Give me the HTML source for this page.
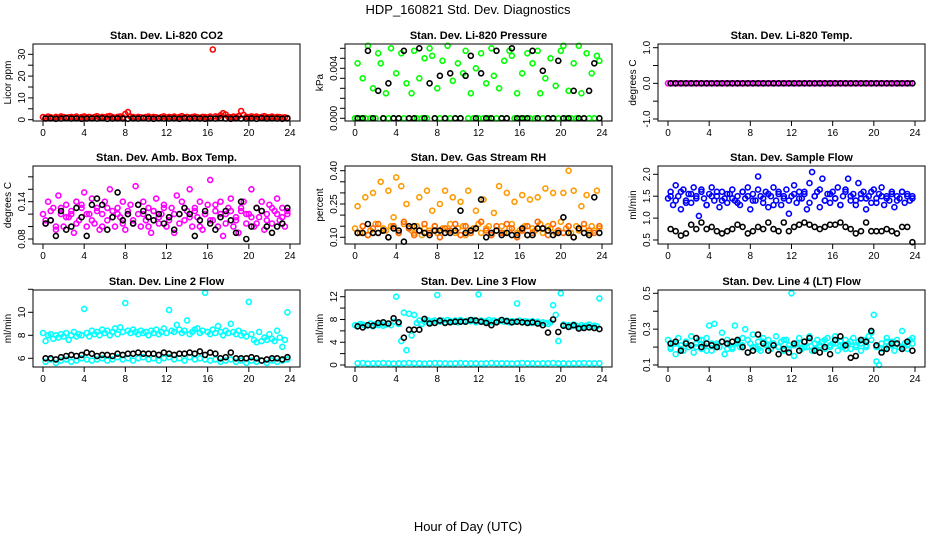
<!DOCTYPE html>
<html><head><meta charset="utf-8"><title>HDP_160821 Std. Dev. Diagnostics</title>
<style>
html,body{margin:0;padding:0;background:#fff;}
svg{display:block;font-family:"Liberation Sans",Arial,sans-serif;}
</style></head>
<body>
<svg id="chart" width="936" height="540" viewBox="0 0 936 540" xmlns="http://www.w3.org/2000/svg">
<text x="468" y="14" text-anchor="middle" font-size="13">HDP_160821  Std. Dev. Diagnostics</text>
<text x="468" y="531" text-anchor="middle" font-size="13">Hour of Day (UTC)</text>
</svg>
<script>
const hoursC = [0,0.25,0.5,0.75,1,1.25,1.5,1.75,2,2.25,2.5,2.75,3,3.25,3.5,3.75,4,4.25,4.5,4.75,5,5.25,5.5,5.75,6,6.25,6.5,6.75,7,7.25,7.5,7.75,8,8.25,8.5,8.75,9,9.25,9.5,9.75,10,10.25,10.5,10.75,11,11.25,11.5,11.75,12,12.25,12.5,12.75,13,13.25,13.5,13.75,14,14.25,14.5,14.75,15,15.25,15.5,15.75,16,16.25,16.5,16.75,17,17.25,17.5,17.75,18,18.25,18.5,18.75,19,19.25,19.5,19.75,20,20.25,20.5,20.75,21,21.25,21.5,21.75,22,22.25,22.5,22.75,23,23.25,23.5,23.75];
const hoursB = [0.25,0.75,1.25,1.75,2.25,2.75,3.25,3.75,4.25,4.75,5.25,5.75,6.25,6.75,7.25,7.75,8.25,8.75,9.25,9.75,10.25,10.75,11.25,11.75,12.25,12.75,13.25,13.75,14.25,14.75,15.25,15.75,16.25,16.75,17.25,17.75,18.25,18.75,19.25,19.75,20.25,20.75,21.25,21.75,22.25,22.75,23.25,23.75];
const xTicks = [0,4,8,12,16,20,24];

const co2Color = [1.2,0.9,1.4,1.1,0.8,1.3,1.0,1.5,1.2,0.9,1.1,1.3,1.0,1.4,0.8,1.2,1.5,1.1,1.3,0.9,1.2,1.6,1.0,1.3,1.1,1.4,1.7,1.2,0.9,1.3,1.5,1.1,2.6,3.5,1.4,1.2,1.0,1.3,1.1,0.9,1.2,1.4,1.0,1.3,1.1,0.8,1.2,1.5,1.0,1.3,1.1,1.4,0.9,1.2,1.6,1.1,1.3,1.0,1.2,1.4,1.1,0.9,1.3,1.2,1.0,1.4,32.2,1.5,1.2,2.0,3.0,2.4,1.3,1.1,1.4,1.2,1.6,4.0,2.2,1.3,1.1,1.5,1.2,1.4,1.0,1.3,1.6,1.2,1.1,1.4,1.0,1.3,1.2,0.9,1.1,0.8];
const co2Black = [0.5,0.6,0.4,0.5,0.7,0.5,0.6,0.4,0.5,0.6,0.5,0.7,0.4,0.5,0.6,0.5,0.4,0.6,0.5,0.7,0.5,0.4,0.6,0.5,0.5,0.6,0.4,0.7,0.5,0.6,0.5,0.4,0.6,0.5,0.7,0.5,0.4,0.6,0.5,0.5,0.6,0.4,0.7,0.5,0.6,0.5,0.4,0.6];

const presColor = [0,0.0044,0,0.0032,0,0.0058,0,0.0024,0,0.0052,0.0044,0,0.0020,0,0.0056,0,0.0036,0,0.0052,0,0.0028,0,0.0020,0.0054,0,0.0032,0,0.0048,0,0.0056,0.0050,0,0.0024,0,0.0046,0,0.0058,0,0.0030,0,0.0044,0,0.0036,0.0054,0,0.0020,0,0.0040,0,0.0052,0,0.0028,0,0.0056,0.0034,0,0.0024,0,0.0046,0,0.0054,0.0050,0,0.0020,0,0.0036,0,0.0052,0,0.0044,0,0.0054,0.0020,0,0.0032,0,0.0048,0,0.0026,0,0.0054,0.0058,0,0.0022,0,0.0044,0,0.0058,0.0020,0,0.0052,0,0.0036,0,0.0050,0.0046];
const presBlack = [0,0,0.0054,0,0.0022,0,0.0028,0,0,0.0054,0,0,0.0056,0,0.0028,0,0.0034,0,0.0036,0,0,0.0034,0.0050,0,0.0036,0,0,0.0054,0,0,0.0056,0,0,0,0.0054,0,0.0038,0,0,0.0046,0,0,0.0022,0,0,0.0022,0.0044,0];

const tempColor = [0,0,0,0,0,0,0,0,0,0,0,0,0,0,0,0,0,0,0,0,0,0,0,0,0,0,0,0,0,0,0,0,0,0,0,0,0,0,0,0,0,0,0,0,0,0,0,0,0,0,0,0,0,0,0,0,0,0,0,0,0,0,0,0,0,0,0,0,0,0,0,0,0,0,0,0,0,0,0,0,0,0,0,0,0,0,0,0,0,0,0,0,0,0,0,0];
const tempBlack = [0,0,0,0,0,0,0,0,0,0,0,0,0,0,0,0,0,0,0,0,0,0,0,0,0,0,0,0,0,0,0,0,0,0,0,0,0,0,0,0,0,0,0,0,0,0,0,0];

const ambColor = [0.12,0.105,0.14,0.11,0.13,0.095,0.15,0.12,0.10,0.135,0.115,0.125,0.09,0.14,0.11,0.13,0.155,0.10,0.12,0.145,0.105,0.13,0.095,0.12,0.14,0.11,0.16,0.125,0.10,0.13,0.115,0.14,0.095,0.12,0.135,0.105,0.165,0.12,0.10,0.14,0.11,0.13,0.09,0.125,0.145,0.105,0.12,0.135,0.10,0.115,0.13,0.09,0.15,0.12,0.14,0.11,0.125,0.16,0.10,0.13,0.115,0.14,0.095,0.12,0.135,0.175,0.11,0.125,0.10,0.14,0.085,0.12,0.13,0.145,0.10,0.115,0.09,0.125,0.14,0.105,0.12,0.16,0.10,0.13,0.115,0.14,0.095,0.12,0.135,0.105,0.125,0.145,0.11,0.13,0.10,0.12];
const ambColor2 = [0.11,0.125,0.10,0.13,0.115,0.12,0.105,0.135,0.12,0.11,0.125,0.10,0.13,0.115,0.12,0.105,0.125,0.11,0.135,0.12,0.10,0.125,0.115,0.13,0.11,0.12,0.105,0.13,0.115,0.125,0.10,0.12,0.11,0.135,0.12,0.105,0.125,0.11,0.13,0.12,0.115,0.105,0.125,0.11,0.13,0.12,0.115,0.125];
const ambBlack = [0.105,0.11,0.085,0.125,0.095,0.10,0.13,0.115,0.085,0.135,0.145,0.135,0.095,0.115,0.155,0.11,0.12,0.105,0.135,0.125,0.115,0.11,0.12,0.105,0.115,0.095,0.12,0.13,0.12,0.085,0.11,0.125,0.105,0.095,0.115,0.125,0.11,0.09,0.14,0.08,0.10,0.13,0.125,0.10,0.09,0.10,0.105,0.13];

const rhColor = [0.14,0.24,0.12,0.15,0.28,0.11,0.13,0.30,0.16,0.12,0.35,0.14,0.13,0.31,0.15,0.19,0.37,0.12,0.33,0.16,0.25,0.14,0.13,0.12,0.15,0.28,0.11,0.14,0.31,0.13,0.22,0.15,0.12,0.25,0.14,0.31,0.13,0.16,0.28,0.12,0.14,0.26,0.15,0.11,0.31,0.13,0.14,0.22,0.16,0.12,0.27,0.14,0.15,0.11,0.21,0.13,0.33,0.15,0.12,0.30,0.14,0.16,0.26,0.12,0.13,0.29,0.15,0.11,0.27,0.14,0.13,0.28,0.16,0.12,0.32,0.15,0.14,0.30,0.12,0.13,0.17,0.30,0.14,0.40,0.12,0.31,0.15,0.13,0.24,0.14,0.29,0.12,0.15,0.13,0.31,0.14];
const rhColor2 = [0.12,0.15,0.11,0.14,0.16,0.13,0.10,0.15,0.12,0.17,0.14,0.11,0.13,0.16,0.12,0.15,0.10,0.14,0.13,0.16,0.11,0.15,0.12,0.14,0.17,0.13,0.11,0.15,0.12,0.16,0.14,0.10,0.13,0.15,0.12,0.17,0.14,0.11,0.16,0.13,0.12,0.15,0.10,0.14,0.16,0.13,0.12,0.15];
const rhBlack = [0.12,0.12,0.16,0.12,0.12,0.13,0.10,0.14,0.13,0.08,0.15,0.15,0.13,0.12,0.11,0.13,0.13,0.12,0.12,0.13,0.22,0.12,0.13,0.14,0.27,0.10,0.12,0.13,0.11,0.12,0.11,0.11,0.14,0.11,0.11,0.14,0.14,0.13,0.11,0.12,0.19,0.12,0.10,0.14,0.12,0.11,0.28,0.12];

const flowColor = [1.45,1.6,1.3,1.75,1.5,1.2,1.65,1.4,1.55,1.35,1.7,1.5,1.05,1.6,1.45,1.3,1.55,1.7,1.4,1.5,1.25,1.6,1.45,1.35,1.55,1.65,1.4,1.5,1.3,1.6,1.45,1.7,1.2,1.55,1.4,1.95,1.5,1.35,1.6,1.25,1.5,1.7,1.4,1.55,1.3,1.45,1.65,1.1,1.5,1.75,1.35,1.6,1.45,1.55,1.2,1.8,2.05,1.5,1.6,1.25,1.9,1.4,1.55,1.35,1.6,1.45,1.7,1.3,1.5,1.65,1.9,1.4,1.55,1.3,1.8,1.45,1.6,1.2,1.5,1.35,1.65,1.45,1.55,1.7,1.3,1.5,1.4,1.6,1.25,1.5,1.45,1.6,1.35,1.55,1.4,1.5];
const flowColor2 = [1.5,1.4,1.6,1.35,1.55,1.45,1.65,1.3,1.5,1.6,1.4,1.55,1.45,1.35,1.6,1.5,1.4,1.65,1.45,1.55,1.3,1.6,1.5,1.4,1.55,1.45,1.6,1.35,1.5,1.65,1.4,1.55,1.45,1.3,1.6,1.5,1.4,1.55,1.45,1.6,1.35,1.5,1.45,1.55,1.4,1.6,1.5,1.45];
const flowBlack = [0.75,0.7,0.6,0.65,0.85,0.75,0.9,0.75,0.8,0.7,0.65,0.7,0.75,0.85,0.8,0.65,0.7,0.8,0.75,0.9,0.75,0.7,0.9,0.7,0.8,0.85,0.9,0.85,0.8,0.75,0.8,0.85,0.85,0.9,0.8,0.75,0.65,0.7,0.9,0.7,0.7,0.7,0.75,0.7,0.65,0.8,0.8,0.45];

const line2Color = [8.2,7.5,8.0,8.1,7.7,8.0,7.8,8.1,7.9,8.2,7.6,8.0,8.3,7.9,8.1,8.0,10.3,8.2,7.9,8.4,8.1,8.3,8.0,8.5,8.2,8.4,8.0,8.3,8.6,8.1,8.7,8.3,10.8,8.4,8.2,8.5,8.3,8.1,8.4,8.2,8.3,8.0,8.4,8.2,8.5,8.1,8.3,8.6,8.2,10.2,8.4,8.3,8.9,8.5,8.2,8.4,9.3,8.1,8.3,8.5,8.6,8.2,8.4,11.7,8.3,8.1,8.5,8.2,8.8,8.3,8.0,8.4,8.2,9.0,8.3,8.1,8.4,8.0,8.2,7.9,10.9,8.1,7.6,7.4,8.3,7.5,7.8,7.6,8.1,7.7,7.5,8.4,7.8,7.0,7.6,10.0];
const line2Color2 = [5.7,5.9,5.6,5.8,5.9,5.7,5.8,6.0,5.9,5.8,5.9,6.0,5.8,5.9,6.1,5.9,6.0,5.8,6.0,6.1,5.9,6.0,5.8,6.0,6.1,5.9,6.0,5.8,6.1,5.9,6.0,5.9,5.8,5.9,5.7,5.8,5.9,5.7,5.8,5.6,5.8,5.7,5.8,5.6,5.8,5.7,5.8,5.9];
const line2Black = [6.0,6.0,5.9,6.1,6.2,6.3,6.2,6.3,6.5,6.4,6.2,6.3,6.3,6.2,6.4,6.3,6.4,6.4,6.5,6.4,6.4,6.4,6.3,6.5,6.4,6.3,6.4,6.4,6.5,6.4,6.6,6.3,6.5,6.4,6.0,6.1,6.5,6.0,6.0,6.0,6.1,6.0,5.8,5.9,6.0,6.0,5.9,6.1];

const line3Color = [7.0,6.8,7.2,7.1,6.9,7.0,7.3,6.8,7.1,7.0,7.2,6.9,7.1,7.3,7.0,7.6,12.0,7.2,4.2,9.2,2.6,9.0,5.2,8.8,7.4,7.8,7.2,7.6,7.9,7.5,7.7,7.8,12.3,7.6,7.8,7.5,7.9,7.7,7.6,7.8,7.5,7.9,7.7,7.6,7.8,7.7,7.9,7.5,12.4,7.8,7.6,7.7,7.9,7.5,7.8,7.6,7.7,7.9,7.6,7.8,7.5,7.7,7.6,10.8,7.8,7.5,7.7,7.6,7.4,7.7,7.5,7.6,7.3,7.5,7.4,7.2,7.5,10.5,8.8,4.2,12.6,7.1,6.9,7.0,6.8,7.1,6.9,6.7,7.0,6.8,6.9,7.1,6.7,6.9,6.8,11.7];
const line3Color2 = [0.3,0.35,0.25,0.3,0.3,0.35,0.3,0.25,0.3,0.3,0.35,0.3,0.3,0.25,0.3,0.35,0.3,0.3,0.25,0.3,0.35,0.3,0.3,0.3,0.25,0.3,0.35,0.3,0.3,0.3,0.25,0.3,0.35,0.3,0.3,0.25,0.3,0.3,0.35,0.3,0.3,0.25,0.3,0.3,0.35,0.3,0.3,0.3];
const line3Black = [6.8,6.6,7.0,6.9,7.4,7.5,7.3,8.2,7.5,4.8,6.2,6.2,6.2,8.1,7.3,7.4,7.8,7.4,7.5,7.6,7.6,7.6,7.9,7.8,7.6,7.4,7.0,7.5,7.9,7.7,7.5,7.6,7.5,7.4,7.5,7.3,7.0,5.7,8.0,5.8,6.9,6.7,7.0,6.4,6.5,6.6,6.5,6.3];

const line4Color = [0.24,0.19,0.22,0.16,0.25,0.21,0.18,0.23,0.2,0.26,0.17,0.22,0.24,0.19,0.21,0.25,0.32,0.18,0.33,0.22,0.2,0.28,0.16,0.24,0.21,0.19,0.32,0.23,0.2,0.25,0.3,0.17,0.22,0.27,0.2,0.23,0.18,0.25,0.21,0.24,0.19,0.22,0.26,0.2,0.23,0.18,0.24,0.21,0.5,0.15,0.22,0.25,0.19,0.23,0.2,0.26,0.18,0.22,0.24,0.2,0.23,0.19,0.25,0.21,0.22,0.26,0.18,0.23,0.2,0.24,0.22,0.19,0.25,0.21,0.23,0.18,0.24,0.2,0.26,0.28,0.38,0.12,0.1,0.22,0.19,0.25,0.21,0.23,0.18,0.24,0.2,0.29,0.22,0.19,0.24,0.25];
const line4Color2 = [0.2,0.22,0.19,0.23,0.21,0.2,0.24,0.18,0.22,0.21,0.23,0.19,0.2,0.22,0.21,0.24,0.2,0.19,0.23,0.21,0.22,0.2,0.24,0.19,0.21,0.22,0.2,0.23,0.19,0.21,0.24,0.2,0.22,0.21,0.19,0.23,0.2,0.22,0.21,0.24,0.2,0.19,0.23,0.21,0.22,0.2,0.21,0.22];
const line4Black = [0.22,0.23,0.18,0.22,0.21,0.25,0.2,0.22,0.21,0.2,0.23,0.22,0.23,0.24,0.2,0.17,0.18,0.27,0.22,0.18,0.21,0.16,0.19,0.17,0.22,0.18,0.23,0.25,0.18,0.17,0.2,0.16,0.24,0.26,0.21,0.14,0.15,0.24,0.23,0.29,0.21,0.17,0.19,0.22,0.22,0.19,0.23,0.18];

const yTicksCo2 = [0,5,10,15,20,25,30];        const yLabelsCo2 = ["0","","10","","20","","30"];
const yTicksPres = [0,0.0008,0.0016,0.0024,0.0032,0.004,0.0048,0.0056]; const yLabelsPres = ["0.000","","","","","0.004","",""];
const yTicksTemp = [-1,-0.5,0,0.5,1];            const yLabelsTemp = ["-1.0","","0.0","","1.0"];
const yTicksAmb = [0.08,0.10,0.12,0.14,0.16,0.18]; const yLabelsAmb = ["0.08","","","0.14","",""];
const yTicksRh = [0.10,0.15,0.20,0.25,0.30,0.35,0.40]; const yLabelsRh = ["0.10","","","0.25","","","0.40"];
const yTicksFlow = [0.5,1.0,1.5,2.0];            const yLabelsFlow = ["0.5","1.0","1.5","2.0"];
const yTicksL2 = [6,8,10,12];                    const yLabelsL2 = ["6","8","10",""];
const yTicksL3 = [0,2,4,6,8,10,12];              const yLabelsL3 = ["0","","4","","8","","12"];
const yTicksL4 = [0.1,0.2,0.3,0.4,0.5];          const yLabelsL4 = ["0.1","","0.3","","0.5"];

const NS = "http://www.w3.org/2000/svg";
const svg = document.getElementById("chart");
const cols = [[33,300],[345,612],[658,925]];
const rows = [[44,121],[166,244],[290,367]];

const panels = [
 {name:"co2",title:"Stan. Dev. Li-820 CO2",ylab:"Licor ppm",c:0,r:0,ref:[0,119.7,30,54.3],yt:yTicksCo2,yl:yLabelsCo2,series:[[hoursC,co2Color,"#ff0000"],[hoursB,co2Black,"#000"]]},
 {name:"pressure",title:"Stan. Dev. Li-820 Pressure",ylab:"kPa",c:1,r:0,ref:[0,118.3,0.004,68.3],yt:yTicksPres,yl:yLabelsPres,series:[[hoursC,presColor,"#00ff00"],[hoursB,presBlack,"#000"]]},
 {name:"temp",title:"Stan. Dev. Li-820 Temp.",ylab:"degrees C",c:2,r:0,ref:[-1,119,1,47.7],yt:yTicksTemp,yl:yLabelsTemp,series:[[hoursC,tempColor,"#ff00ff"],[hoursB,tempBlack,"#000"]]},
 {name:"amb-box-temp",title:"Stan. Dev. Amb. Box Temp.",ylab:"degrees C",c:0,r:1,ref:[0.08,239,0.14,201.7],yt:yTicksAmb,yl:yLabelsAmb,series:[[hoursC,ambColor,"#ff00ff"],[hoursB,ambColor2,"#ff00ff"],[hoursB,ambBlack,"#000"]]},
 {name:"gas-rh",title:"Stan. Dev. Gas Stream RH",ylab:"percent",c:1,r:1,ref:[0.10,237.3,0.40,170.7],yt:yTicksRh,yl:yLabelsRh,series:[[hoursC,rhColor,"#ff9900"],[hoursB,rhColor2,"#ff6600"],[hoursB,rhBlack,"#000"]]},
 {name:"sample-flow",title:"Stan. Dev. Sample Flow",ylab:"ml/min",c:2,r:1,ref:[0.5,240,2.0,174.3],yt:yTicksFlow,yl:yLabelsFlow,series:[[hoursC,flowColor,"#0000ff"],[hoursB,flowColor2,"#0000ff"],[hoursB,flowBlack,"#000"]]},
 {name:"line2-flow",title:"Stan. Dev. Line 2 Flow",ylab:"ml/min",c:0,r:2,ref:[6,358.3,10,312.3],yt:yTicksL2,yl:yLabelsL2,series:[[hoursC,line2Color,"#00ffff"],[hoursB,line2Color2,"#00ffff"],[hoursB,line2Black,"#000"]]},
 {name:"line3-flow",title:"Stan. Dev. Line 3 Flow",ylab:"ml/min",c:1,r:2,ref:[0,365,12,296.7],yt:yTicksL3,yl:yLabelsL3,series:[[hoursC,line3Color,"#00ffff"],[hoursB,line3Color2,"#00ffff"],[hoursB,line3Black,"#000"]]},
 {name:"line4-flow",title:"Stan. Dev. Line 4 (LT) Flow",ylab:"ml/min",c:2,r:2,ref:[0.1,365,0.5,293.3],yt:yTicksL4,yl:yLabelsL4,series:[[hoursC,line4Color,"#00ffff"],[hoursB,line4Color2,"#00ffff"],[hoursB,line4Black,"#000"]]}
];

function mk(tag, attrs, parent){const e=document.createElementNS(NS,tag);for(const k in attrs)e.setAttribute(k,attrs[k]);(parent||svg).appendChild(e);return e;}

panels.forEach(p=>{
  const [L,R]=cols[p.c],[T,B]=rows[p.r];
  const g=mk("g",{});
  
  
  const x0=L+10,x24=R-10;
  const xs=h=>x0+h*(x24-x0)/24;
  const [v0,p0,v1,p1]=p.ref;
  const ys=v=>p0+(v-v0)*(p1-p0)/(v1-v0);
  const t=mk("text",{x:(L+R)/2,y:T-5,"text-anchor":"middle","font-size":"11","font-weight":"bold"},g);
  t.textContent=p.title;
  
  
  const yl=mk("text",{x:0,y:0,"text-anchor":"middle","font-size":"10",transform:`translate(${L-22},${(T+B)/2}) rotate(-90)`},g);
  yl.textContent=p.ylab;
  
  
  // points
  p.series.forEach(s=>{
    const [hs,vs,col]=s;
    const n=Math.min(hs.length,vs.length);
    for(let i=0;i<n;i++){
      const c=mk("circle",{cx:xs(hs[i]).toFixed(1),cy:ys(vs[i]).toFixed(1),r:2.5,fill:"none",stroke:col,"stroke-width":1.6},g);
      
      
    }
  });
  const box=mk("rect",{x:L,y:T,width:R-L,height:B-T,fill:"none",stroke:"#000","stroke-width":1},g);
  
  
  // x axis
  const xa=mk("g",{},g);
  
  
  mk("line",{x1:xs(xTicks[0]),x2:xs(xTicks[xTicks.length-1]),y1:B,y2:B,stroke:"#000"},xa);
  xTicks.forEach(h=>{
    mk("line",{x1:xs(h),x2:xs(h),y1:B,y2:B+5,stroke:"#000"},xa);
    const lt=mk("text",{x:xs(h),y:B+15,"text-anchor":"middle","font-size":"10"},xa);
    lt.textContent=h;
    
    
  });
  // y axis
  const ya=mk("g",{},g);
  
  
  mk("line",{x1:L,x2:L,y1:ys(p.yt[0]),y2:ys(p.yt[p.yt.length-1]),stroke:"#000"},ya);
  p.yt.forEach((v,i)=>{
    const y=ys(v);
    mk("line",{x1:L-5,x2:L,y1:y,y2:y,stroke:"#000"},ya);
    if(p.yl[i]){
      const lt=mk("text",{x:0,y:0,"text-anchor":"middle","font-size":"10",transform:`translate(${L-8},${y}) rotate(-90)`},ya);
      lt.textContent=p.yl[i];
      
      
    }
  });
});
</script>
</body></html>
